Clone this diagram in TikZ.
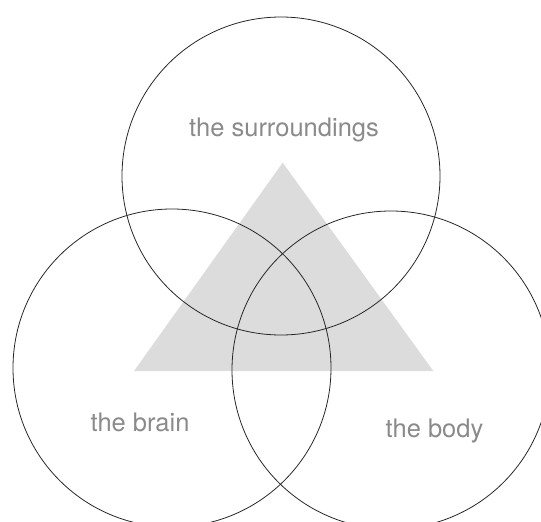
\documentclass[tikz,border=0pt]{standalone}
\usepackage{fontspec}
\setmainfont{TeX Gyre Heros}
\definecolor{trianglegray}{HTML}{DCDCDC}
\definecolor{labelgray}{HTML}{8A8A8A}
\begin{document}
\begin{tikzpicture}[x=1pt, y=-1pt,
    esfera/.style={draw=black!85, line width=0.8pt, circle, minimum size=318pt, inner sep=0pt},
    rotulo/.style={anchor=base, text=labelgray, font=\fontsize{25.5}{30}\selectfont}]
\useasboundingbox (0,0) rectangle (541,522);
\clip (0,0) rectangle (541,522);
% Triangulo de fundo
\coordinate (topo) at (282.7,162.7);
\coordinate (esq) at (134,371);
\coordinate (dir) at (433.3,371);
\fill[trianglegray] (topo) -- (esq) -- (dir) -- cycle;
% Circulos
\node[esfera] (entorno) at (281,176) {};
\node[esfera] (cerebro) at (172,368) {};
\node[esfera] (corpo) at (391,370) {};
% Rotulos
\node[rotulo] (tentorno) at (284,136) {the surroundings};
\node[rotulo] (tcerebro) at (140,431.5) {the brain};
\node[rotulo] (tcorpo) at (434.5,437.5) {the body};
\end{tikzpicture}
\end{document}
